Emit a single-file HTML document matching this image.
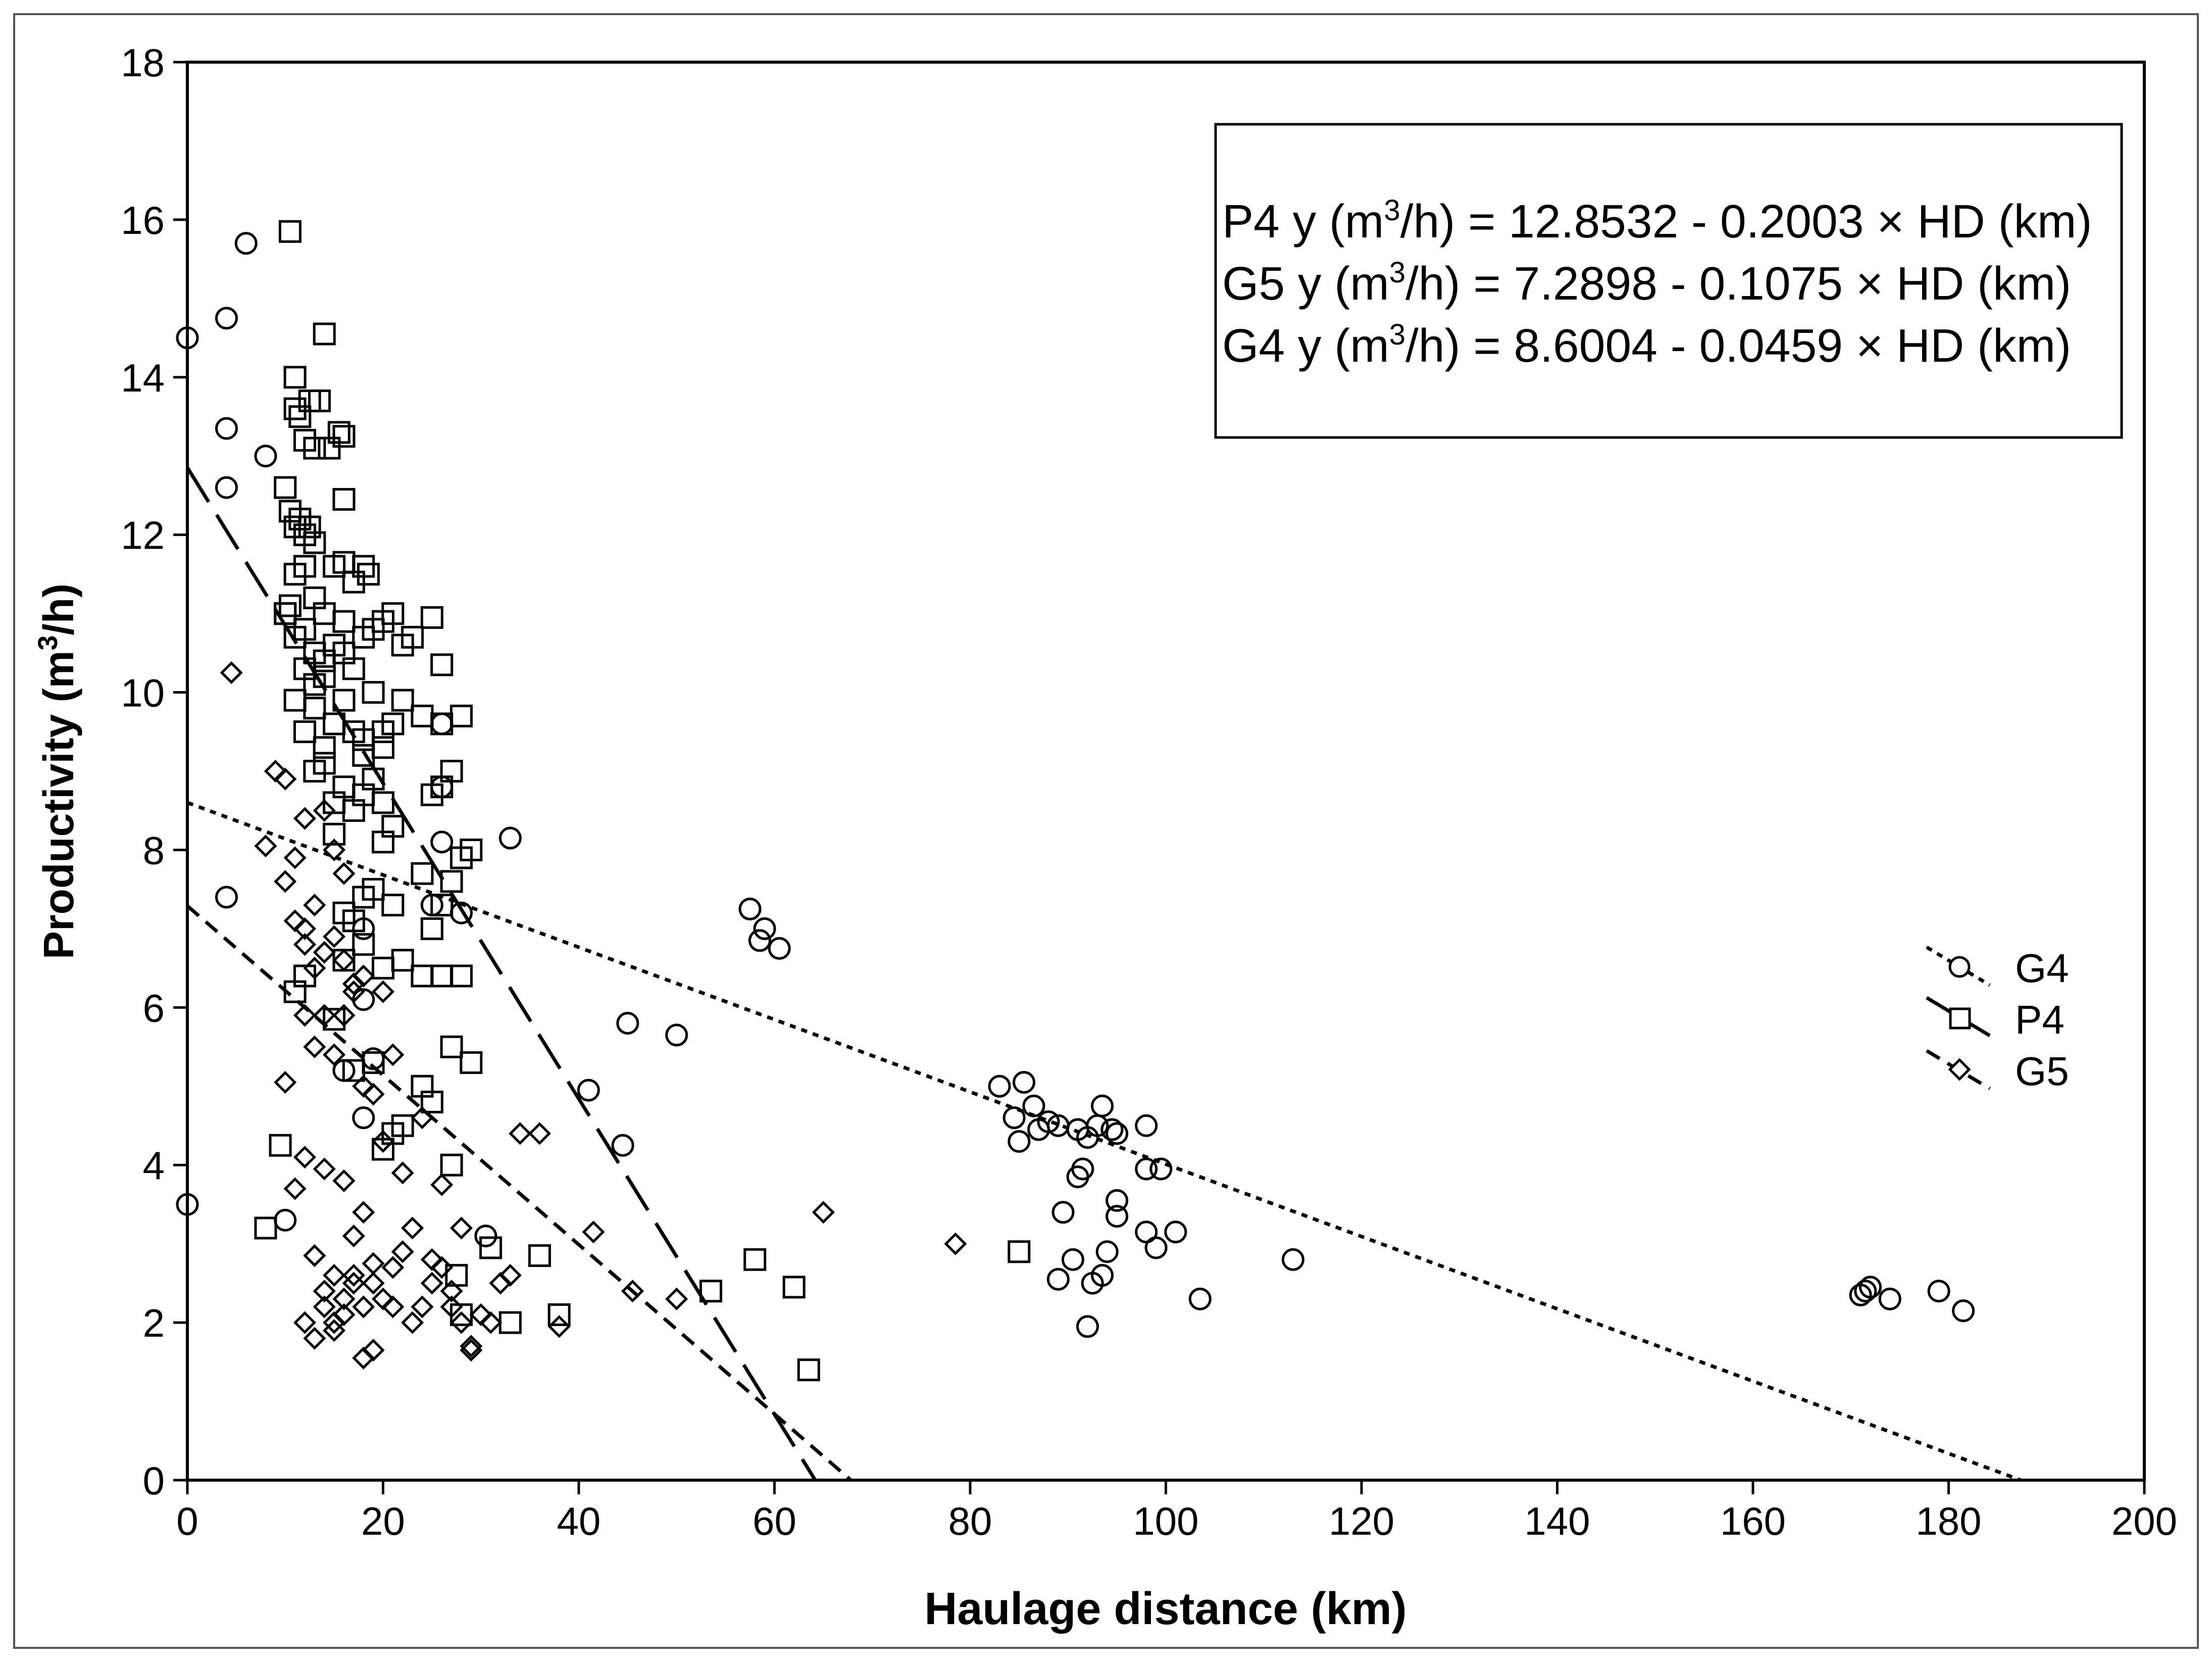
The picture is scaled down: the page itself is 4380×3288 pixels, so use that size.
<!DOCTYPE html>
<html><head><meta charset="utf-8"><style>
html,body{margin:0;padding:0;background:#fff;}
svg{display:block;font-family:"Liberation Sans",Arial,sans-serif;}
</style></head><body>
<svg id="chart" width="4380" height="3288" viewBox="0 0 4380 3288">
<rect x="28" y="28" width="4324" height="3234" fill="none" stroke="#555" stroke-width="4"/>
<rect x="371" y="123" width="3875" height="2807" fill="none" stroke="#000" stroke-width="6"/>
<g id="axes"></g>
<g id="lines"></g>
<g id="marks"></g>
<text x="2308" y="3215" font-size="90" font-weight="bold" text-anchor="middle">Haulage distance (km)</text>
<text transform="translate(145,1527) rotate(-90)" font-size="84" font-weight="bold" text-anchor="middle">Productivity (m<tspan font-size="54" dy="-32">3</tspan><tspan dy="32">/h)</tspan></text>
<rect x="2407" y="246" width="1794" height="620" fill="#fff" stroke="#000" stroke-width="5"/>
<text x="2420" y="470" font-size="93">P4 y (m<tspan font-size="58" dy="-34">3</tspan><tspan dy="34">/h) = 12.8532 - 0.2003 × HD (km)</tspan></text>
<text x="2420" y="593" font-size="93">G5 y (m<tspan font-size="58" dy="-34">3</tspan><tspan dy="34">/h) = 7.2898 - 0.1075 × HD (km)</tspan></text>
<text x="2420" y="716" font-size="93">G4 y (m<tspan font-size="58" dy="-34">3</tspan><tspan dy="34">/h) = 8.6004 - 0.0459 × HD (km)</tspan></text>
<g>
<line x1="3815" y1="1875" x2="3940" y2="1950" stroke="#000" stroke-width="7" stroke-dasharray="12,12"/>
<circle cx="3880" cy="1914" r="19" fill="#fff" stroke="#000" stroke-width="5"/>
<text x="3990" y="1944" font-size="80">G4</text>
<line x1="3815" y1="1975" x2="3940" y2="2050" stroke="#000" stroke-width="7" stroke-dasharray="70,30"/>
<rect x="3862" y="1997" width="38" height="38" fill="#fff" stroke="#000" stroke-width="5"/>
<text x="3990" y="2046" font-size="80">P4</text>
<line x1="3815" y1="2080" x2="3940" y2="2155" stroke="#000" stroke-width="7" stroke-dasharray="30,18"/>
<path d="M3880 2098 l19 19 l-19 19 l-19 -19z" fill="#fff" stroke="#000" stroke-width="5"/>
<text x="3990" y="2148" font-size="80">G5</text>
</g>
</svg>
<script>
const xTicks=[0,20,40,60,80,100,120,140,160,180,200];
const yTicks=[0,2,4,6,8,10,12,14,16,18];
const g4X=[0,4,6,4,4,8,0,10,4,33,45,50,41,44.5,57.5,59,58.5,60.5,30.5,18,19,16,83,85.5,84.5,85,86.5,87,88,89,91,92,93,93.5,94.5,95,98,98,99.5,95,95,91,91.5,89.5,98,101,99,94,90.5,89,92.5,93.5,92,103.5,113,171,171.5,172,174,179,181.5,26,26,26,25,28,18,18];
const g4Y=[14.5,14.75,15.7,13.35,12.6,13,3.5,3.3,7.4,8.15,5.8,5.65,4.95,4.25,7.25,7,6.85,6.75,3.1,4.6,5.35,5.2,5,5.05,4.6,4.3,4.75,4.45,4.55,4.5,4.45,4.35,4.5,4.75,4.45,4.4,4.5,3.95,3.95,3.55,3.35,3.85,3.95,3.4,3.15,3.15,2.95,2.9,2.8,2.55,2.5,2.6,1.95,2.3,2.8,2.35,2.4,2.45,2.3,2.4,2.15,9.6,8.1,8.8,7.3,7.2,7.0,6.1];
const p4X=[10.5,11,11.5,12,11,12.5,13,13.5,14,14.5,
15.5,16,10,10.5,11,11.5,12,12.5,13,16,
11,12,13,14,15,16,17,18,18.5,10,
10.5,11,12,13,14,15,16,17,18,19,
20,21,22,23,25,26,11,12,13,14,
15,16,17,18,19,20,21,22,24,26,
28,13,14,15,16,17,18,19,20,21,
25,26,27,15,16,17,18,19,20,21,
24,25,26,27,28,29,16,18,20,22,
24,26,27,28,29,11,12,10,9.5,8,
15,17,19,20,21,22,24,25,27,27.5,
28,31,33,36,38,53.5,58,62,63.5,85,
12,13,14,16,18,20];
const p4Y=[15.85,14,13.5,13.2,13.6,13.7,13.1,13.7,14.55,13.1,
13.3,13.25,12.6,12.3,12.1,12.2,12.0,12.1,11.9,12.45,
11.5,11.6,11.2,11.0,11.6,11.65,11.4,11.6,11.5,11.0,
11.1,10.7,10.8,10.5,10.2,10.6,10.5,10.3,10.7,10.8,
10.9,11.0,10.6,10.7,10.95,10.35,9.9,9.5,9.8,9.3,
9.6,9.9,9.5,9.4,10.0,9.3,9.6,9.9,9.7,9.6,
9.7,9.0,9.1,8.6,8.8,8.5,8.7,8.9,8.6,8.3,
8.7,8.8,9.0,8.2,7.2,7.1,7.4,7.5,8.1,7.3,
7.7,7.0,7.3,7.6,7.9,8.0,6.6,6.8,6.5,6.6,
6.4,6.4,5.5,6.4,5.3,6.2,6.4,11.0,4.25,3.2,
5.85,5.2,5.3,4.2,4.4,4.5,5.0,4.8,4.0,2.6,
2.1,2.95,2.0,2.85,2.1,2.4,2.8,2.45,1.4,2.9,
10.3,10.1,10.4,10.9,9.2,9.5];
const g5X=[4.5,9,10,8,11,12,10,12,13,14,15,16,13,14,11,12,15,16,17,18,12,13,14,15,16,17,18,19,20,21,10,12,14,16,18,20,22,24,26,11,13,15,17,19,21,23,25,27,13,14,15,16,17,18,19,20,21,22,23,24,25,26,27,28,29,30,31,32,33,34,12,13,14,15,16,17,18,19,28,29,36,38,41.5,45.5,50,65,78.5];
const g5Y=[10.25,9.0,8.9,8.05,7.9,8.4,7.6,7.0,7.3,8.5,8.0,7.7,6.5,6.7,7.1,6.8,6.9,6.6,6.3,6.4,5.9,5.5,5.9,5.4,5.9,6.2,5.0,4.9,6.2,5.4,5.05,4.1,3.95,3.8,3.4,4.3,3.9,4.6,3.75,3.7,2.85,2.6,3.1,2.75,2.2,3.2,2.8,2.4,2.85,2.4,2.0,2.1,2.6,2.2,2.5,2.3,2.7,2.9,2.0,2.2,2.5,2.7,2.2,2.0,1.7,2.1,2.0,2.5,2.6,4.4,2.0,1.8,2.2,1.9,2.3,2.5,1.55,1.65,3.2,1.65,4.4,1.95,3.15,2.4,2.3,3.4,3.0];
const fitP4=[12.8532,0.2003], fitG5=[7.2898,0.1075], fitG4=[8.6004,0.0459];
const X0=371,X1=4246,Y0=2930,Y1=123;
function sx(v){return X0+(v-0)/(200-0)*(X1-X0);}
function sy(v){return Y0-(v-0)/(18-0)*(Y0-Y1);}
const NS='http://www.w3.org/2000/svg';
const axes=document.getElementById('axes'),lines=document.getElementById('lines'),marks=document.getElementById('marks');
function mk(t,a,p){const e=document.createElementNS(NS,t);for(const k in a)e.setAttribute(k,a[k]);p.appendChild(e);return e;}
xTicks.forEach(v=>{
 const t=mk('line',{x1:sx(v),x2:sx(v),y1:Y0,y2:Y0+28,stroke:'#000','stroke-width':5},axes);
 
 
 const l=mk('text',{x:sx(v),y:Y0+108,'font-size':78,'text-anchor':'middle'},axes);l.textContent=v;
 
 
});
yTicks.forEach(v=>{
 const t=mk('line',{x1:X0-28,x2:X0,y1:sy(v),y2:sy(v),stroke:'#000','stroke-width':5},axes);
 
 
 const l=mk('text',{x:X0-45,y:sy(v)+28,'font-size':78,'text-anchor':'end'},axes);l.textContent=v;
 
 
});
function fit(f,dash,name){
 const xe=f[0]/f[1];
 const l=mk('line',{x1:sx(0),y1:sy(f[0]),x2:sx(xe),y2:sy(0),stroke:'#000','stroke-width':7,'stroke-dasharray':dash},lines);
 
 
}
fit(fitG4,'12,12','g4-fit-line');
fit(fitP4,'80,30','p4-fit-line');
fit(fitG5,'30,18','g5-fit-line');
g4X.forEach((x,i)=>{const e=mk('circle',{cx:sx(x),cy:sy(g4Y[i]),r:20,fill:'none',stroke:'#000','stroke-width':5},marks);
 
 });
p4X.forEach((x,i)=>{const e=mk('rect',{x:sx(x)-20,y:sy(p4Y[i])-20,width:40,height:40,fill:'none',stroke:'#000','stroke-width':5},marks);
 
 });
g5X.forEach((x,i)=>{const cx=sx(x),cy=sy(g5Y[i]);const e=mk('path',{d:`M${cx} ${cy-19} L${cx+19} ${cy} L${cx} ${cy+19} L${cx-19} ${cy}Z`,fill:'none',stroke:'#000','stroke-width':5},marks);
 
 });
</script>
</body></html>
